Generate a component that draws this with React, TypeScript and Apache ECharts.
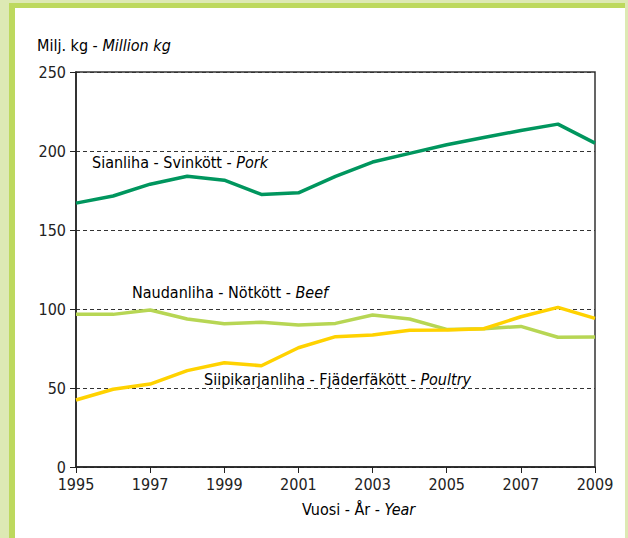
import React, { useEffect, useRef } from "react";
import * as echarts from "echarts";

const years = ["1995","1996","1997","1998","1999","2000","2001","2002","2003","2004","2005","2006","2007","2008","2009"];
const pork = [167, 171.5, 179, 184, 181.5, 172.5, 173.5, 184, 193, 198.5, 204, 208.5, 213, 217, 205];
const beef = [96.6, 96.6, 99.4, 93.7, 90.7, 91.6, 89.9, 90.9, 96.2, 93.7, 87.1, 87.5, 89, 82.1, 82.3];
const poultry = [42.4, 49.2, 52.5, 61, 66, 64.1, 75.5, 82.5, 83.5, 86.5, 86.7, 87.5, 95.1, 101, 94.1];
const yTicks = [0, 50, 100, 150, 200, 250];

const FONT = "'Liberation Sans Narrow', 'DejaVu Sans Condensed', 'Liberation Sans', sans-serif";
const TXT = "#222";

export default function App() {
  const ref = useRef<HTMLDivElement>(null);
  useEffect(() => {
    const chart = echarts.init(ref.current!, null, { renderer: "svg" });
    const rich = {
      n: { fontFamily: FONT, fontSize: 16, color: TXT },
      i: { fontFamily: FONT, fontSize: 16, color: TXT, fontStyle: "italic" },
    };
    chart.setOption({
      animation: false,
      backgroundColor: "#dde9b4",
      graphic: [
        { type: "rect", z: -10, shape: { x: 9, y: 3, width: 616, height: 540 }, style: { fill: "#bdd95e" } },
        { type: "rect", z: -9, shape: { x: 15, y: 8, width: 610, height: 540 }, style: { fill: "#ffffff" } },
        { type: "text", x: 37, y: 37, style: { text: "{n|Milj. kg - }{i|Million kg}", rich } },
        { type: "text", x: 92, y: 154, style: { text: "{n|Sianliha - Svinkött - }{i|Pork}", rich } },
        { type: "text", x: 132, y: 284, style: { text: "{n|Naudanliha - Nötkött - }{i|Beef}", rich } },
        { type: "text", x: 204, y: 371, style: { text: "{n|Siipikarjanliha - Fjäderfäkött - }{i|Poultry}", rich } },
        { type: "text", x: 302, y: 501, style: { text: "{n|Vuosi - År - }{i|Year}", rich } },
      ],
      grid: {
        left: 76, right: 33, top: 72, bottom: 71,
        show: true, borderColor: "#333", borderWidth: 1.5, backgroundColor: "transparent",
      },
      xAxis: {
        type: "category",
        data: years,
        boundaryGap: false,
        axisLine: { lineStyle: { color: "#222", width: 1.5 } },
        axisTick: { interval: 1, length: 6, lineStyle: { color: "#222" } },
        axisLabel: { interval: 1, color: TXT, fontFamily: FONT, fontSize: 16, margin: 9 },
      },
      yAxis: {
        type: "value",
        min: yTicks[0],
        max: yTicks[yTicks.length - 1],
        interval: 50,
        axisLine: { show: true, lineStyle: { color: "#222", width: 1.5 } },
        axisTick: { show: true, length: 6, lineStyle: { color: "#222" } },
        axisLabel: { color: TXT, fontFamily: FONT, fontSize: 16, margin: 10 },
        splitLine: { show: true, lineStyle: { color: "#333", type: [4, 3], width: 1 } },
      },
      series: [
        { name: "Pork", type: "line", data: pork, symbol: "none", lineStyle: { color: "#00965e", width: 3.5 }, z: 3 },
        { name: "Beef", type: "line", data: beef, symbol: "none", lineStyle: { color: "#b7d654", width: 3.5 }, z: 2 },
        { name: "Poultry", type: "line", data: poultry, symbol: "none", lineStyle: { color: "#ffd200", width: 3.5 }, z: 3 },
      ],
    });
    return () => chart.dispose();
  }, []);
  return <div ref={ref} style={{ position: "fixed", left: 0, top: 0, width: 628, height: 538 }} />;
}
